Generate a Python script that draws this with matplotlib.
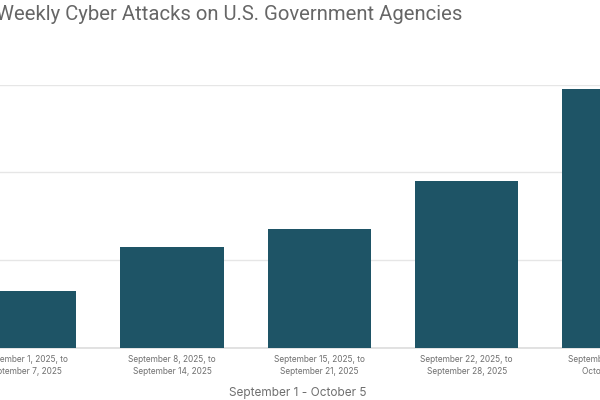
import numpy as np
import matplotlib
matplotlib.use('Agg')
import matplotlib.pyplot as plt

# weekly counts (gridlines every 20)
weeks = ['September 1, 2025, to\nSeptember 7, 2025',
         'September 8, 2025, to\nSeptember 14, 2025',
         'September 15, 2025, to\nSeptember 21, 2025',
         'September 22, 2025, to\nSeptember 28, 2025',
         'September 29, 2025, to\nOctober 5, 2025']
attacks = [13, 23, 27, 38, 59]
grid_ticks = [0, 20, 40, 60]

bar_color = '#1e5466'
text_gray = '#6f6f6f'

fig = plt.figure(figsize=(6, 4), dpi=100)
# the screenshot is cropped, so the axes run past both sides of the figure
ax = fig.add_axes([-0.0815, 0.1308, 1.2275, 0.6575])

x = np.arange(len(weeks))
ax.bar(x, attacks, width=0.70, color=bar_color, zorder=3)

ax.set_xlim(-0.5, len(weeks) - 0.5)
ax.set_ylim(0, 60)
ax.set_yticks(grid_ticks)
ax.yaxis.grid(True, color='#e6e6e6', linewidth=1.0, zorder=0)
ax.tick_params(axis='y', left=False, labelleft=False)

ax.set_xticks(x)
ax.set_xticklabels(weeks, fontsize=6, color=text_gray, family='Inter', linespacing=1.5)
ax.tick_params(axis='x', length=0, pad=5)

for s in ['top', 'right', 'left']:
    ax.spines[s].set_visible(False)
ax.spines['bottom'].set_color('#dddddd')
ax.spines['bottom'].set_linewidth(1.2)

fig.text(-0.006, 0.965, 'Weekly Cyber Attacks on U.S. Government Agencies',
         fontsize=14.6, color='#666666', family='Roboto', ha='left', va='center')
fig.text(0.497, 0.018, 'September 1 - October 5', fontsize=8.5, color=text_gray,
         family='Inter', ha='center', va='center')

fig.savefig('out.png', dpi=100)
